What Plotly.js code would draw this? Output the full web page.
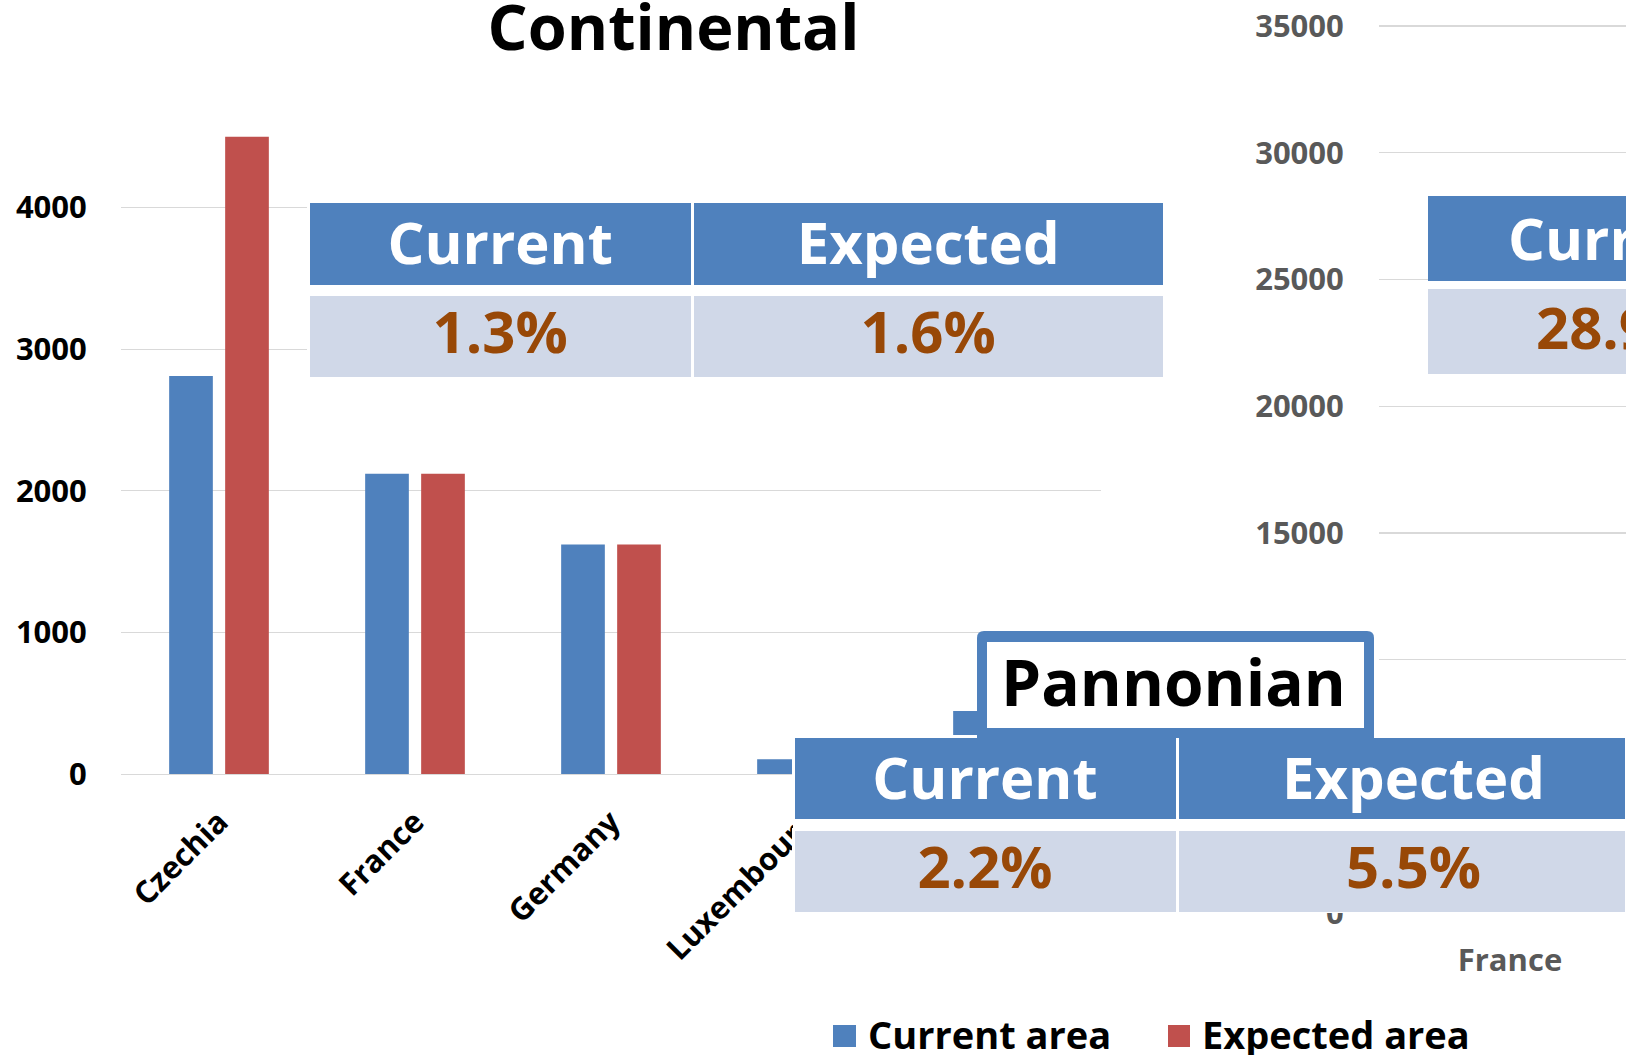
<!DOCTYPE html>
<html><head><meta charset="utf-8">
<script src="https://cdn.plot.ly/plotly-3.0.1.min.js"></script>
<style>html,body{margin:0;padding:0;background:#fff;overflow:hidden}#chart{width:1626px;height:1055px}</style>
</head><body><div id="chart"></div>
<script>
// ---- data ----
const continentalCountries = ["Czechia", "France", "Germany", "Luxembourg", "Poland"];
const continentalCurrent = [2810, 2120, 1620, 105, 445];
const continentalExpected = [4500, 2120, 1620, 105, 445];
const rightCountries = ["France"];
const rightCurrent = [2400];   // hidden behind the Pannonian table in the picture
const rightExpected = [3100];  // hidden behind the Pannonian table in the picture
const seriesNames = ["Current area", "Expected area"];
const tableHeaders = ["Current", "Expected"];
const continentalShares = ["1.3%", "1.6%"];
const pannonianShares = ["2.2%", "5.5%"];
const rightShares = ["28.9%"];
const regionTitles = ["Continental", "Pannonian"];

// ---- layout helpers (pixel -> paper fraction) ----
const W = 1626, H = 1055;
const fx = p => p / W;
const fy = p => 1 - p / H;
const FONT = "Open Sans";
const BLUE = "#4F81BD", RED = "#C0504D", BODY = "#D0D8E8", BROWN = "#984807", WHITE = "#ffffff", CLEAR = "rgba(0,0,0,0)";

// a one-row table (header only)
function tableRow(xl, xr, yt, yb, values, widths, fill, color, lineColor, lineWidth, align) {
  return {
    type: "table",
    domain: {x: [fx(xl), fx(xr)], y: [fy(yb), fy(yt)]},
    columnwidth: widths,
    header: {
      values: values,
      height: yb - yt,
      align: align,
      fill: {color: fill},
      line: {color: lineColor, width: lineWidth},
      font: {family: FONT, size: 58, color: color, weight: 700}
    },
    cells: {values: []}
  };
}
const blanks = arr => arr.map(() => "");
const HEAD_DY = 11, BODY_DY = 7.5;

// builds a two-row table: white backing, coloured rows, then text rows
function buildTable(xl, xr, headTop, headBot, bodyTop, bodyBot, fillWidths, fillLine,
                    headVals, bodyVals, headWidths, bodyWidths, align) {
  return [
    tableRow(xl, xr, headTop, bodyBot, [""], [1], WHITE, WHITE, WHITE, 0, "center"),
    tableRow(xl, xr, headTop, headBot, blanks(fillWidths), fillWidths, BLUE, WHITE, fillLine, 3, "center"),
    tableRow(xl, xr, bodyTop, bodyBot, blanks(fillWidths), fillWidths, BODY, WHITE, fillLine === WHITE ? WHITE : BODY, 3, "center"),
    tableRow(xl, xr, headTop + HEAD_DY, headBot + HEAD_DY, headVals, headWidths, CLEAR, WHITE, CLEAR, 0, align),
    tableRow(xl, xr, bodyTop + BODY_DY, bodyBot + BODY_DY, bodyVals, bodyWidths, CLEAR, BROWN, CLEAR, 0, align)
  ];
}

const traces = [
  {type: "bar", name: seriesNames[0], x: continentalCountries, y: continentalCurrent, marker: {color: BLUE}, xaxis: "x", yaxis: "y", showlegend: false, hoverinfo: "skip"},
  {type: "bar", name: seriesNames[1], x: continentalCountries, y: continentalExpected, marker: {color: RED}, xaxis: "x", yaxis: "y", showlegend: false, hoverinfo: "skip"},
  {type: "bar", name: seriesNames[0], x: rightCountries, y: rightCurrent, marker: {color: BLUE}, xaxis: "x2", yaxis: "y2", showlegend: false, hoverinfo: "skip"},
  {type: "bar", name: seriesNames[1], x: rightCountries, y: rightExpected, marker: {color: RED}, xaxis: "x2", yaxis: "y2", showlegend: false, hoverinfo: "skip"}
]
// Continental table
.concat(buildTable(308, 1164, 201, 286, 294, 378, [383, 470], WHITE,
  tableHeaders, continentalShares, [383, 470], [383, 470], "center"))
// right (cut-off) table
.concat(buildTable(1429, W, 197, 282, 290, 374, [1], BLUE,
  ["", tableHeaders[0]], ["", rightShares[0]], [71, 126], [99, 98], "left"))
// Pannonian table
.concat(buildTable(793, W, 736, 820, 829, 913, [384, 449], WHITE,
  [tableHeaders[0], "", tableHeaders[1]], [pannonianShares[0], "", pannonianShares[1]],
  [384, 24, 425], [384, 24, 425], "center"));

// Pannonian title box path (rounded top corners)
const bx0 = 977, bx1 = 1374, by0 = 631, by1 = 738, r = 7;
const P = (x, y) => fx(x) + "," + fy(y);
const boxPath = "M" + P(bx0, by1) + " L" + P(bx0, by0 + r) + " Q" + P(bx0, by0) + " " + P(bx0 + r, by0) +
  " L" + P(bx1 - r, by0) + " Q" + P(bx1, by0) + " " + P(bx1, by0 + r) + " L" + P(bx1, by1) + " Z";

const layout = {
  width: W, height: H,
  margin: {l: 0, r: 0, t: 0, b: 0},
  paper_bgcolor: WHITE, plot_bgcolor: CLEAR,
  font: {family: FONT, color: "#000"},
  barmode: "group", bargap: 0.4286, bargroupgap: 0.22,
  showlegend: false,
  title: {text: regionTitles[0], x: fx(673.5), xanchor: "center", y: fy(28), yanchor: "middle",
          font: {family: FONT, size: 63, color: "#000", weight: 700}},
  xaxis: {domain: [fx(121), fx(1101)], anchor: "y", type: "category", tickangle: -45,
          ticks: "outside", ticklen: 16, tickcolor: CLEAR,
          tickfont: {family: FONT, size: 31, color: "#000", weight: 700},
          showline: true, linecolor: "#D9D9D9", linewidth: 1.3, showgrid: false, fixedrange: true},
  yaxis: {domain: [fy(774), fy(774 - 4.7 * 141.6)], anchor: "x", range: [0, 4700], dtick: 1000, tickformat: "d",
          ticks: "outside", ticklen: 27, tickcolor: CLEAR,
          tickfont: {family: FONT, size: 31, color: "#000", weight: 700},
          showgrid: true, gridcolor: "#D9D9D9", gridwidth: 1.3, zeroline: false, fixedrange: true},
  xaxis2: {domain: [fx(1379), 1], anchor: "y2", type: "category", range: [-0.5, -0.5 + 247 / 262],
           ticks: "outside", ticklen: 20, tickcolor: CLEAR,
           tickfont: {family: FONT, size: 31, color: "#595959", weight: 700},
           showline: false, showgrid: false, fixedrange: true},
  yaxis2: {domain: [fy(913), fy(913 - 36000 / 5000 * 126.7)], anchor: "x2", range: [0, 36000], dtick: 5000, tickformat: "d",
           ticks: "outside", ticklen: 28, tickcolor: CLEAR,
           tickfont: {family: FONT, size: 31, color: "#595959", weight: 700},
           showgrid: true, gridcolor: "#D9D9D9", gridwidth: 1.3, zeroline: false, fixedrange: true},
  shapes: [
    {type: "path", xref: "paper", yref: "paper", path: boxPath, fillcolor: BLUE, line: {width: 0}, layer: "above"},
    {type: "rect", xref: "paper", yref: "paper", x0: fx(987), x1: fx(1364), y0: fy(728), y1: fy(642), fillcolor: WHITE, line: {width: 0}, layer: "above"},
    // legend swatches
    {type: "rect", xref: "paper", yref: "paper", x0: fx(833), x1: fx(856), y0: fy(1047), y1: fy(1025), fillcolor: BLUE, line: {width: 0}},
    {type: "rect", xref: "paper", yref: "paper", x0: fx(1168), x1: fx(1190), y0: fy(1047), y1: fy(1025), fillcolor: RED, line: {width: 0}}
  ],
  annotations: [
    {text: regionTitles[1], xref: "paper", yref: "paper", x: fx(1173.5), y: fy(681), xanchor: "center", yanchor: "middle",
     showarrow: false, font: {family: FONT, size: 64, color: "#000", weight: 700}},
    {text: seriesNames[0], xref: "paper", yref: "paper", x: fx(866), y: fy(1034), xanchor: "left", yanchor: "middle",
     showarrow: false, font: {family: FONT, size: 38, color: "#000", weight: 700}},
    {text: seriesNames[1], xref: "paper", yref: "paper", x: fx(1200), y: fy(1034), xanchor: "left", yanchor: "middle",
     showarrow: false, font: {family: FONT, size: 38, color: "#000", weight: 700}}
  ]
};

Plotly.newPlot("chart", traces, layout, {displayModeBar: false, staticPlot: true});
</script>
</body></html>
